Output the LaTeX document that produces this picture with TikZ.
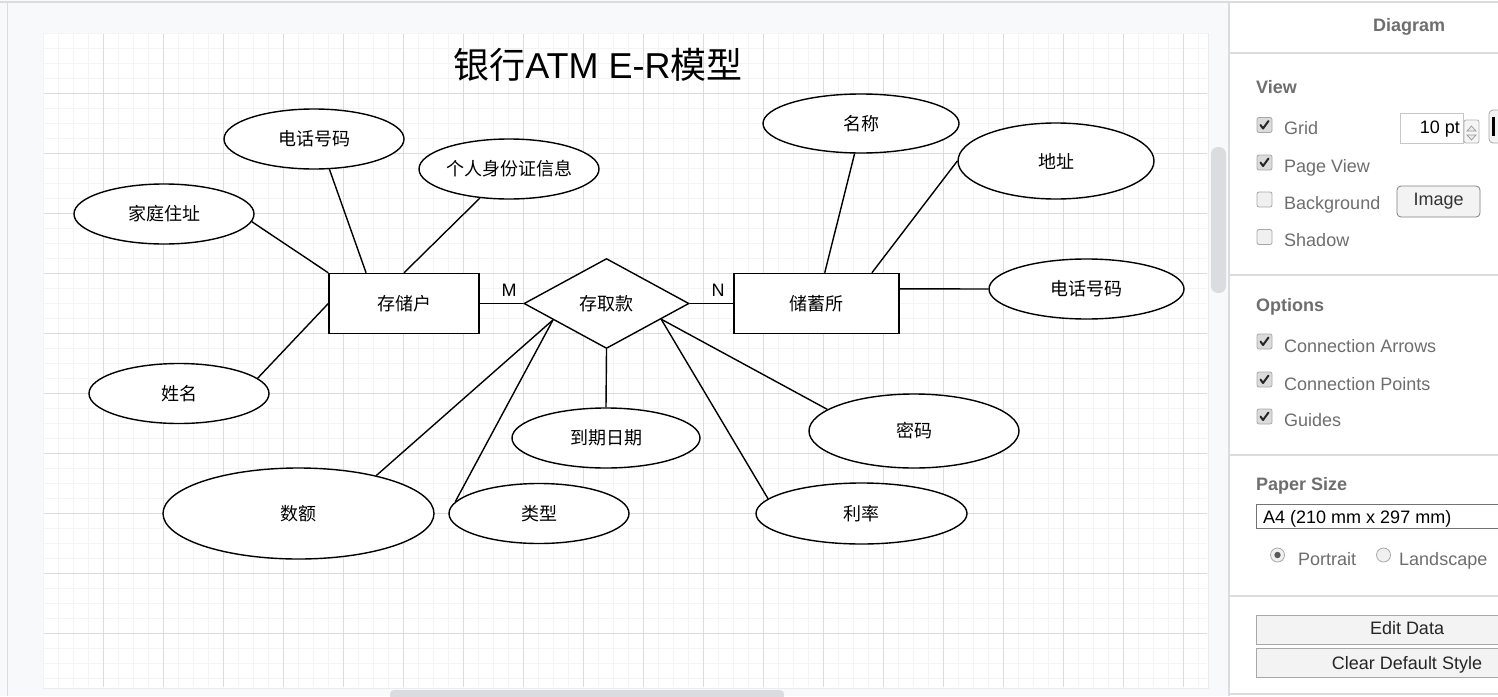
\documentclass[tikz,border=0pt]{standalone}
\usepackage{fontspec}
\setmainfont{Liberation Sans}
\newfontfamily\cjk{Noto Sans CJK SC}
\usetikzlibrary{shapes.geometric}
\definecolor{canvasbg}{HTML}{F8F9FA}
\definecolor{majorgrid}{HTML}{DCDCDC}
\definecolor{minorgrid}{HTML}{F4F4F4}
\definecolor{uiline}{HTML}{DADCE0}
\definecolor{uitext}{HTML}{6E6E6E}
\definecolor{scrollc}{HTML}{DADCE0}
\definecolor{boxedge}{HTML}{A8A8A8}
\definecolor{btnfill}{HTML}{F3F3F3}
\begin{document}
\begin{tikzpicture}[x=1pt,y=-1pt,
  conn/.style={line width=1.4pt,draw=black},
  entity/.style={draw=black,line width=1.4pt,fill=white,rectangle,minimum width=150,minimum height=60,inner sep=0pt,font=\cjk\fontsize{18}{20}\selectfont},
  rel/.style={draw=black,line width=1.4pt,fill=white,diamond,minimum width=165,minimum height=90,inner sep=0pt,font=\cjk\fontsize{18}{20}\selectfont},
  attr/.style={draw=black,line width=1.4pt,fill=white,ellipse,minimum width=180,minimum height=60,inner sep=0pt,font=\cjk\fontsize{18}{20}\selectfont},
  card/.style={font=\fontsize{18}{20}\selectfont,inner sep=0pt},
  minorln/.style={draw=minorgrid,line width=0.8pt},
  majorln/.style={draw=majorgrid,line width=0.9pt},
  sechead/.style={font=\bfseries\fontsize{18}{20}\selectfont,text=uitext,anchor=west,inner sep=0pt,text height=13pt,text depth=0pt},
  lab/.style={font=\fontsize{18}{20}\selectfont,text=uitext,anchor=west,inner sep=0pt,text height=13pt,text depth=0pt},
  darklab/.style={font=\fontsize{18}{20}\selectfont,text=black,inner sep=0pt,text height=13pt,text depth=0pt},
  checkedbox/.pic={\path[draw=boxedge,fill=black!14,rounded corners=2pt,line width=0.8pt] (-7.5,-7.5) rectangle (7.5,7.5);
     \draw[line width=2pt,black!85,line cap=round,line join=round] (-4,0) -- (-1.5,3.5) -- (4,-4);},
  emptybox/.pic={\path[draw=boxedge,fill=black!6,rounded corners=2pt,line width=0.8pt] (-7.5,-7.5) rectangle (7.5,7.5);},
  uibtn/.style={draw=boxedge,fill=btnfill,line width=0.8pt}
]
\useasboundingbox (0,0) rectangle (1498,696);
% canvas background
\fill[canvasbg] (0,0) rectangle (1229,696);
\draw[uiline,line width=2pt] (0,2) -- (1498,2);
\draw[uiline,line width=1pt] (7,3) -- (7,696);
% page
\fill[white] (43,33) rectangle (1208,688);
\draw[black!8,line width=0.8pt] (43,33) rectangle (1208,688);
\foreach \gx in {43,58,...,1198} \draw[minorln] (\gx,34) -- (\gx,687);
\foreach \gy in {33,48,...,678} \draw[minorln] (44,\gy) -- (1207,\gy);
\foreach \gx in {103,163,...,1198} \draw[majorln] (\gx,34) -- (\gx,687);
\foreach \gy in {93,153,...,678} \draw[majorln] (44,\gy) -- (1207,\gy);
% scrollbars
\fill[scrollc,rounded corners=7pt] (1211,147) rectangle (1226,293);
\fill[scrollc,rounded corners=4pt] (390,690) rectangle (784,700);

% title
\node[inner sep=0pt,font=\fontsize{36}{40}\selectfont] (title) at (598,64.5) {{\cjk 银行}ATM E-R{\cjk 模型}};

% entities and relation
\node[entity] (cust) at (404,303.5) {存储户};
\node[rel] (dep) at (606.5,303.5) {存取款};
\node[entity,minimum width=165] (bank) at (816.5,303.5) {储蓄所};

% attributes
\node[attr] (cphone) at (314,139) {电话号码};
\node[attr] (cid) at (509,169) {个人身份证信息};
\node[attr] (caddr) at (164,214) {家庭住址};
\node[attr] (cname) at (179,393.5) {姓名};
\node[attr,minimum width=188] (due) at (606,438) {到期日期};
\node[attr,minimum width=271,minimum height=91] (amt) at (298.5,513.5) {数额};
\node[attr] (type) at (539,513.5) {类型};
\node[attr,minimum width=211,minimum height=61] (rate) at (861.5,513.5) {利率};
\node[attr,minimum width=210,minimum height=74] (pwd) at (914,431) {密码};
\node[attr,minimum width=196,minimum height=59] (bname) at (861,123.5) {名称};
\node[attr,minimum width=196,minimum height=76] (baddr) at (1056,161) {地址};
\node[attr,minimum width=195] (bphone) at (1086.5,289) {电话号码};

% cardinalities
\node[card] (m) at (509,290) {M};
\node[card] (n) at (718,290) {N};

% connectors
\draw[conn] (caddr.-5.3) -- (cust.north west);
\draw[conn] (cphone.-63.4) -- (cust.141.4);
\draw[conn] (cid.-135) -- (cust.north);
\draw[conn] (cname.11.2) -- (cust.west);
\draw[conn] (cust.east) -- (dep.west);
\draw[conn] (dep.east) -- (bank.west);
\draw[conn] (amt.26.1) -- (dep.-163.8);
\draw[conn] (type.172.2) -- (dep.-163.8);
\draw[conn] (dep.south) -- (due.north);
\draw[conn] (rate.171.5) -- (dep.-16.4);
\draw[conn] (pwd.166.4) -- (dep.-16.4);
\draw[conn] (bname.-102.9) -- (bank.75.7);
\draw[conn] (baddr.west) -- (bank.29.3);
\draw[conn] (bank.10) -- (bphone.west);

% ===== right panel =====
\fill[white] (1229,3) rectangle (1498,696);
\draw[uiline,line width=1.2pt] (1229,3) -- (1229,696);
\foreach \ly in {53,275,455,596,694} \draw[uiline,line width=1.5pt] (1230,\ly) -- (1498,\ly);

\node[font=\bfseries\fontsize{18}{20}\selectfont,text=uitext,inner sep=0pt,text height=13pt,text depth=0pt] (hdr) at (1409,25) {Diagram};

\node[sechead] (view) at (1256,87) {View};
\pic at (1264.5,125) {checkedbox};
\pic at (1264.5,162.5) {checkedbox};
\pic at (1264.5,199.5) {emptybox};
\pic at (1264.5,237) {emptybox};
\node[lab] (lgrid) at (1284,128.3) {Grid};
\node[lab] (lpage) at (1284,165.5) {Page View};
\node[lab] (lbg) at (1284,202.5) {Background};
\node[lab] (lshadow) at (1284,240) {Shadow};

% grid size input
\draw[draw=black!22,fill=white,line width=0.8pt] (1400,113) rectangle (1463,143);
\node[darklab,anchor=east] (gsize) at (1460,127.3) {10 pt};
\draw[draw=black!30,fill=black!4,rounded corners=2pt,line width=0.8pt] (1464,120) rectangle (1479,143);
\draw[draw=black!40,fill=black!8,line width=0.7pt] (1467,131) -- (1476,131) -- (1471.5,126) -- cycle;
\draw[draw=black!40,fill=black!8,line width=0.7pt] (1467,135) -- (1476,135) -- (1471.5,140) -- cycle;
\draw[uibtn,rounded corners=4pt] (1489,110) rectangle (1510,143);
\draw[black,line width=3pt] (1493.5,117) -- (1493.5,136);

% image button
\draw[uibtn,draw=black!50,rounded corners=4pt] (1397,186) rectangle (1480,217);
\node[darklab,text=black!80] (imgbtn) at (1438.5,199) {Image};

\node[sechead] (opts) at (1256,304.5) {Options};
\pic at (1264.5,341.5) {checkedbox};
\pic at (1264.5,379.5) {checkedbox};
\pic at (1264.5,416.5) {checkedbox};
\node[lab] (larrows) at (1284,346) {Connection Arrows};
\node[lab] (lpoints) at (1284,384) {Connection Points};
\node[lab] (lguides) at (1284,420) {Guides};

\node[sechead] (paper) at (1256,483.5) {Paper Size};
\draw[draw=black!55,fill=white,line width=0.8pt] (1256,504) rectangle (1510,528);
\node[darklab,anchor=west] (a4) at (1263,517) {A4 (210 mm x 297 mm)};
\draw[draw=boxedge,fill=black!6,line width=0.8pt] (1277.5,555) circle (7);
\fill[black!65] (1277.5,555) circle (3.2);
\draw[draw=boxedge,fill=black!6,line width=0.8pt] (1383.5,555) circle (7);
\node[lab] (lport) at (1298,559) {Portrait};
\node[lab] (lland) at (1399,559) {Landscape};

\draw[uibtn] (1256,615) rectangle (1520,644);
\node[darklab,text=black!85] (edit) at (1407,628.3) {Edit Data};
\draw[uibtn] (1256,648) rectangle (1520,677);
\node[darklab,text=black!85] (clear) at (1407,662.7) {Clear Default Style};
\end{tikzpicture}
\end{document}
